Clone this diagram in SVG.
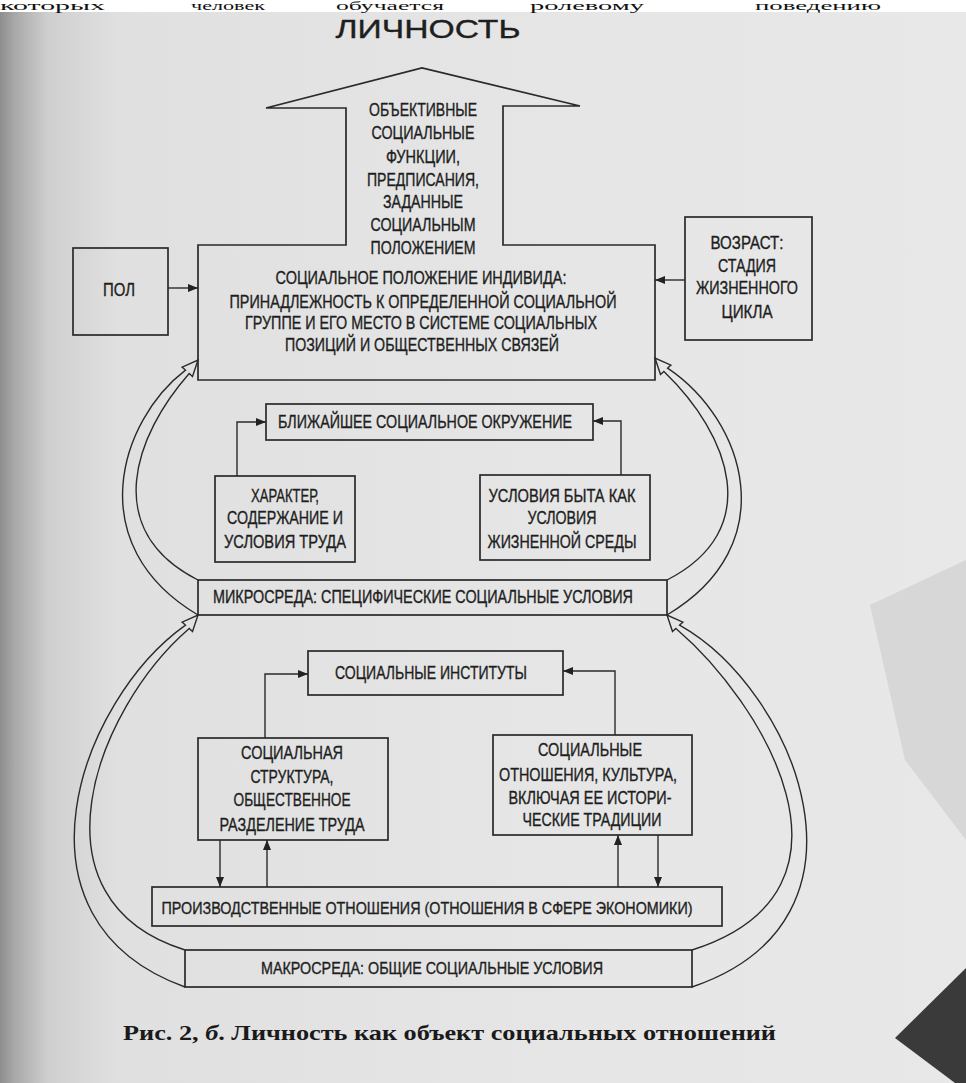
<svg xmlns="http://www.w3.org/2000/svg" width="966" height="1083" viewBox="0 0 966 1083">
<defs>
<linearGradient id="bg" x1="0" y1="0" x2="1" y2="0">
<stop offset="0" stop-color="#8e8e8e"/>
<stop offset="0.015" stop-color="#a8a8a8"/>
<stop offset="0.05" stop-color="#cfcfcf"/>
<stop offset="0.12" stop-color="#e0e0e0"/>
<stop offset="0.6" stop-color="#e6e6e6"/>
<stop offset="1" stop-color="#e8e8e8"/>
</linearGradient>
<marker id="ah" viewBox="0 0 10 8" refX="10" refY="4" markerWidth="10" markerHeight="8" markerUnits="userSpaceOnUse" orient="auto">
<path d="M0,0 L10,4 L0,8 Z" fill="#222"/>
</marker>
<style>
.box{fill:none;stroke:#2a2a2a;stroke-width:1.7}
.t{font-family:"Liberation Sans",Arial,sans-serif;font-size:18px;fill:#1e1e1e;stroke:#1e1e1e;stroke-width:0.35;text-anchor:middle}
.ts{font-size:17px}
.con{fill:none;stroke:#2a2a2a;stroke-width:1.4}
.hol{fill:none;stroke:#2a2a2a;stroke-width:1.4;stroke-linejoin:miter}
.top{font-family:"Liberation Serif","Times New Roman",serif;font-size:13px;fill:#111}
</style>
</defs>
<rect width="966" height="1083" fill="url(#bg)"/>
<rect width="966" height="12" fill="#ffffff"/>
<polygon points="870,605 966,560 966,840 905,760" fill="#c4c4c4" opacity="0.45"/>
<polygon points="895,1038 966,968 966,1083 955,1083" fill="#3a3a3a"/>
<g id="page-text">
<text class="top" x="0" y="10" textLength="105" lengthAdjust="spacingAndGlyphs">которых</text>
<text class="top" x="191" y="10" textLength="74" lengthAdjust="spacingAndGlyphs">человек</text>
<text class="top" x="336" y="10" textLength="108" lengthAdjust="spacingAndGlyphs">обучается</text>
<text class="top" x="530" y="10" textLength="114" lengthAdjust="spacingAndGlyphs">ролевому</text>
<text class="top" x="755" y="10" textLength="126" lengthAdjust="spacingAndGlyphs">поведению</text>
</g>
<g id="title">
<text class="t" x="428" y="38" style="font-size:26px" textLength="185" lengthAdjust="spacingAndGlyphs">ЛИЧНОСТЬ</text>
</g>
<g id="social-position">
<path class="box" d="M 198 245 H 346 V 108 H 266 L 422 68 L 580 106 H 503 V 245 H 655 V 380 H 198 Z"/>
<text class="t" x="423" y="116" textLength="108" lengthAdjust="spacingAndGlyphs">ОБЪЕКТИВНЫЕ</text>
<text class="t" x="423" y="139" textLength="103" lengthAdjust="spacingAndGlyphs">СОЦИАЛЬНЫЕ</text>
<text class="t" x="423" y="163" textLength="74" lengthAdjust="spacingAndGlyphs">ФУНКЦИИ,</text>
<text class="t" x="423" y="186" textLength="112" lengthAdjust="spacingAndGlyphs">ПРЕДПИСАНИЯ,</text>
<text class="t" x="423" y="208" textLength="80" lengthAdjust="spacingAndGlyphs">ЗАДАННЫЕ</text>
<text class="t" x="423" y="231" textLength="105" lengthAdjust="spacingAndGlyphs">СОЦИАЛЬНЫМ</text>
<text class="t" x="423" y="254" textLength="105" lengthAdjust="spacingAndGlyphs">ПОЛОЖЕНИЕМ</text>
<text class="t" x="421" y="284" textLength="291" lengthAdjust="spacingAndGlyphs">СОЦИАЛЬНОЕ ПОЛОЖЕНИЕ ИНДИВИДА:</text>
<text class="t" x="423" y="308" textLength="387" lengthAdjust="spacingAndGlyphs">ПРИНАДЛЕЖНОСТЬ К ОПРЕДЕЛЕННОЙ СОЦИАЛЬНОЙ</text>
<text class="t" x="421" y="329" textLength="352" lengthAdjust="spacingAndGlyphs">ГРУППЕ И ЕГО МЕСТО В СИСТЕМЕ СОЦИАЛЬНЫХ</text>
<text class="t" x="422" y="351" textLength="274" lengthAdjust="spacingAndGlyphs">ПОЗИЦИЙ И ОБЩЕСТВЕННЫХ СВЯЗЕЙ</text>
</g>
<g id="sex">
<rect class="box" x="73" y="248" width="95" height="87"/>
<text class="t" x="119" y="296" textLength="32" lengthAdjust="spacingAndGlyphs">ПОЛ</text>
</g>
<g id="age">
<rect class="box" x="685" y="217" width="127" height="123"/>
<text class="t" x="747" y="249" textLength="73" lengthAdjust="spacingAndGlyphs">ВОЗРАСТ:</text>
<text class="t" x="747" y="272" textLength="58" lengthAdjust="spacingAndGlyphs">СТАДИЯ</text>
<text class="t" x="747" y="294" textLength="102" lengthAdjust="spacingAndGlyphs">ЖИЗНЕННОГО</text>
<text class="t" x="747" y="318" textLength="51" lengthAdjust="spacingAndGlyphs">ЦИКЛА</text>
</g>
<g id="near-environment">
<rect class="box" x="266" y="404" width="327" height="36"/>
<text class="t" x="425" y="428" textLength="294" lengthAdjust="spacingAndGlyphs">БЛИЖАЙШЕЕ СОЦИАЛЬНОЕ ОКРУЖЕНИЕ</text>
</g>
<g id="labour">
<rect class="box" x="215" y="476" width="140" height="86"/>
<text class="t" x="285" y="502" textLength="68" lengthAdjust="spacingAndGlyphs">ХАРАКТЕР,</text>
<text class="t" x="285" y="524" textLength="116" lengthAdjust="spacingAndGlyphs">СОДЕРЖАНИЕ И</text>
<text class="t" x="285" y="548" textLength="122" lengthAdjust="spacingAndGlyphs">УСЛОВИЯ ТРУДА</text>
</g>
<g id="living">
<rect class="box" x="480" y="475" width="170" height="85"/>
<text class="t" x="562" y="502" textLength="147" lengthAdjust="spacingAndGlyphs">УСЛОВИЯ БЫТА КАК</text>
<text class="t" x="562" y="524" textLength="69" lengthAdjust="spacingAndGlyphs">УСЛОВИЯ</text>
<text class="t" x="562" y="548" textLength="149" lengthAdjust="spacingAndGlyphs">ЖИЗНЕННОЙ СРЕДЫ</text>
</g>
<g id="micro">
<rect class="box" x="198" y="580" width="469" height="35"/>
<text class="t" x="423" y="603" textLength="420" lengthAdjust="spacingAndGlyphs">МИКРОСРЕДА: СПЕЦИФИЧЕСКИЕ СОЦИАЛЬНЫЕ УСЛОВИЯ</text>
</g>
<g id="institutions">
<rect class="box" x="308" y="651" width="255" height="44"/>
<text class="t" x="431" y="679" textLength="192" lengthAdjust="spacingAndGlyphs">СОЦИАЛЬНЫЕ ИНСТИТУТЫ</text>
</g>
<g id="structure">
<rect class="box" x="198" y="738" width="190" height="102"/>
<text class="t" x="292" y="759" textLength="102" lengthAdjust="spacingAndGlyphs">СОЦИАЛЬНАЯ</text>
<text class="t" x="292" y="783" textLength="83" lengthAdjust="spacingAndGlyphs">СТРУКТУРА,</text>
<text class="t" x="292" y="806" textLength="117" lengthAdjust="spacingAndGlyphs">ОБЩЕСТВЕННОЕ</text>
<text class="t" x="292" y="831" textLength="145" lengthAdjust="spacingAndGlyphs">РАЗДЕЛЕНИЕ ТРУДА</text>
</g>
<g id="relations">
<rect class="box" x="493" y="735" width="199" height="100"/>
<text class="t" x="590" y="756" textLength="104" lengthAdjust="spacingAndGlyphs">СОЦИАЛЬНЫЕ</text>
<text class="t" x="588" y="781" textLength="178" lengthAdjust="spacingAndGlyphs">ОТНОШЕНИЯ, КУЛЬТУРА,</text>
<text class="t" x="590" y="804" textLength="163" lengthAdjust="spacingAndGlyphs">ВКЛЮЧАЯ ЕЕ ИСТОРИ-</text>
<text class="t" x="592" y="826" textLength="139" lengthAdjust="spacingAndGlyphs">ЧЕСКИЕ ТРАДИЦИИ</text>
</g>
<g id="production">
<rect class="box" x="152" y="887" width="570" height="39"/>
<text class="t ts" x="427" y="914" textLength="531" lengthAdjust="spacingAndGlyphs">ПРОИЗВОДСТВЕННЫЕ ОТНОШЕНИЯ (ОТНОШЕНИЯ В СФЕРЕ ЭКОНОМИКИ)</text>
</g>
<g id="macro">
<rect class="box" x="185" y="950" width="507" height="37"/>
<text class="t ts" x="432" y="974" textLength="342" lengthAdjust="spacingAndGlyphs">МАКРОСРЕДА: ОБЩИЕ СОЦИАЛЬНЫЕ УСЛОВИЯ</text>
</g>
<g id="connectors">
<path class="con" d="M 168 288 H 198" marker-end="url(#ah)"/>
<path class="con" d="M 685 280 H 655" marker-end="url(#ah)"/>
<path class="con" d="M 237 476 V 422 H 266" marker-end="url(#ah)"/>
<path class="con" d="M 621 475 V 421 H 593" marker-end="url(#ah)"/>
<path class="con" d="M 265 738 V 674 H 308" marker-end="url(#ah)"/>
<path class="con" d="M 615 735 V 671 H 563" marker-end="url(#ah)"/>
<path class="con" d="M 220 840 V 887" marker-end="url(#ah)"/>
<path class="con" d="M 267 887 V 840" marker-end="url(#ah)"/>
<path class="con" d="M 618 887 V 835" marker-end="url(#ah)"/>
<path class="con" d="M 658 835 V 887" marker-end="url(#ah)"/>
<path class="hol" d="M 198 580 C 100 530, 135 435, 189.2 373.5 L 192.5 376.5 L 198 360 L 182.1 367.1 L 185.5 370.1 C 120 420, 80 545, 198 615"/>
<path class="hol" d="M 667 580 C 765 530, 730 435, 663.9 371.5 L 660.5 374.5 L 655 358 L 670.9 365.1 L 667.6 368.1 C 745 420, 785 545, 667 615"/>
<path class="hol" d="M 185 950 C 25 900, 95 710, 189.2 628.5 L 192.5 631.5 L 198 615 L 182.1 622.1 L 185.5 625.1 C 80 700, 0 920, 185 987"/>
<path class="hol" d="M 692 950 C 880 890, 760 700, 675.9 628.5 L 672.5 631.5 L 667 615 L 682.9 622.1 L 679.6 625.1 C 795 690, 890 920, 692 987"/>
</g>
<g id="caption">
<text x="123" y="1040" style="font-family:'Liberation Serif','Times New Roman',serif;font-size:21px;font-weight:bold;fill:#1a1a1a" textLength="653" lengthAdjust="spacingAndGlyphs">Рис. 2, <tspan font-style="italic">б</tspan>. Личность как объект социальных отношений</text>
</g>
</svg>
